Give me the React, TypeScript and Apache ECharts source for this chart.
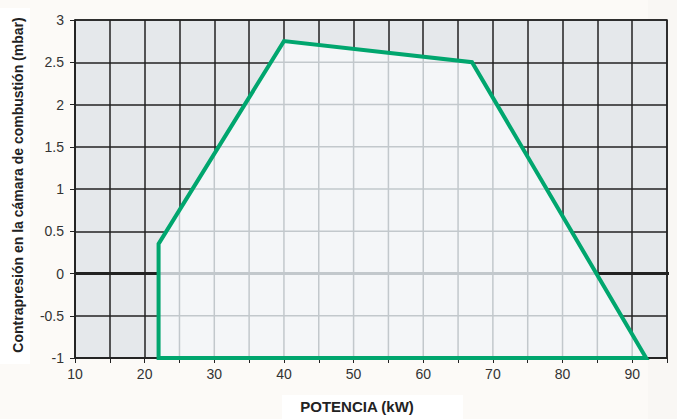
import React, { useEffect, useRef } from "react";
import * as echarts from "echarts";

// Operating envelope (power kW, back-pressure mbar)
const potencia = [22, 22, 40, 67, 92];
const contrapresion = [-1, 0.35, 2.75, 2.5, -1];

const xTicks = [10, 20, 30, 40, 50, 60, 70, 80, 90];
const yTicks = [-1, -0.5, 0, 0.5, 1, 1.5, 2, 2.5, 3];

const X_MIN = 10, X_MAX = 95, X_STEP = 5;
const Y_MIN = -1, Y_MAX = 3, Y_STEP = 0.5;

const GREEN = "#00a66e";
const DARK = "#222222";
const INNER_LINE = "#c2c8cc";

function polyPts(): number[][] {
  return potencia.map((x, i) => [x, contrapresion[i]]);
}

// intersection range of polygon with x = v (axis 0) or y = v (axis 1)
function crossRange(pts: number[][], v: number, axis: number): number[] | null {
  const other = 1 - axis;
  const hits: number[] = [];
  for (let i = 0; i < pts.length; i++) {
    const a = pts[i], b = pts[(i + 1) % pts.length];
    const lo = Math.min(a[axis], b[axis]), hi = Math.max(a[axis], b[axis]);
    if (v < lo || v > hi) continue;
    if (a[axis] === b[axis]) {
      hits.push(a[other], b[other]);
    } else {
      const t = (v - a[axis]) / (b[axis] - a[axis]);
      hits.push(a[other] + t * (b[other] - a[other]));
    }
  }
  if (hits.length < 2) return null;
  return [Math.min(...hits), Math.max(...hits)];
}

export default function App() {
  const ref = useRef<HTMLDivElement>(null);
  useEffect(() => {
    if (!ref.current) return;
    const chart = echarts.init(ref.current, null, { renderer: "svg" });
    const pts = polyPts();

    const renderItem = (params: any, api: any) => {
      const children: any[] = [];
      const c = (x: number, y: number) => api.coord([x, y]);
      // thick dark zero line across the whole grid
      const z0 = c(X_MIN, 0), z1 = c(X_MAX, 0);
      children.push({
        type: "line",
        shape: { x1: z0[0], y1: z0[1], x2: z1[0] + 2, y2: z1[1] },
        style: { stroke: DARK, lineWidth: 3 },
      });
      // polygon fill
      children.push({
        type: "polygon",
        shape: { points: pts.map((p) => c(p[0], p[1])) },
        style: { fill: "#f4f6f8", stroke: "none" },
      });
      // inner grid lines (vertical)
      for (let v = X_MIN + X_STEP; v < X_MAX; v += X_STEP) {
        const r = crossRange(pts, v, 0);
        if (!r) continue;
        const p0 = c(v, r[0]), p1 = c(v, r[1]);
        children.push({
          type: "line",
          shape: { x1: p0[0], y1: p0[1], x2: p1[0], y2: p1[1] },
          style: { stroke: INNER_LINE, lineWidth: 1.5 },
        });
      }
      // inner grid lines (horizontal)
      for (let h = Y_MIN + Y_STEP; h < Y_MAX; h += Y_STEP) {
        const r = crossRange(pts, h, 1);
        if (!r) continue;
        const p0 = c(r[0], h), p1 = c(r[1], h);
        children.push({
          type: "line",
          shape: { x1: p0[0], y1: p0[1], x2: p1[0], y2: p1[1] },
          style: { stroke: INNER_LINE, lineWidth: h === 0 ? 3 : 1.5 },
        });
      }
      // outline
      children.push({
        type: "polygon",
        shape: { points: pts.map((p) => c(p[0], p[1])) },
        style: { fill: "none", stroke: GREEN, lineWidth: 4, lineJoin: "miter" },
      });
      return { type: "group", children };
    };

    const labelStyle = {
      color: "#333333",
      fontFamily: "Liberation Sans, Arial, sans-serif",
      fontSize: 14,
    };

    chart.setOption({
      animation: false,
      backgroundColor: "#fcfaf7",
      graphic: [
        { type: "rect", z: -10, shape: { x: 648, y: 0, width: 29, height: 419 }, style: { fill: "#f9f7f4" } },
        { type: "rect", z: -10, shape: { x: 0, y: 8, width: 30, height: 356 }, style: { fill: "#ffffff" } },
        { type: "rect", z: -10, shape: { x: 282, y: 395, width: 181, height: 24 }, style: { fill: "#ffffff" } },
        {
          type: "text",
          x: 18,
          y: 185,
          rotation: Math.PI / 2,
          style: {
            text: "Contrapresión en la cámara de combustión (mbar)",
            fill: "#222222",
            font: "bold 14px 'Liberation Sans', Arial, sans-serif",
            align: "center",
            verticalAlign: "middle",
          },
        },
        {
          type: "text",
          x: 357,
          y: 406,
          style: {
            text: "POTENCIA (kW)",
            fill: "#222222",
            font: "bold 15px 'Liberation Sans', Arial, sans-serif",
            align: "center",
            verticalAlign: "middle",
          },
        },
      ],
      grid: {
        left: 75,
        right: 10,
        top: 20,
        bottom: 61,
        show: true,
        backgroundColor: "#e5e8eb",
        borderColor: DARK,
        borderWidth: 1.5,
      },
      xAxis: {
        type: "value",
        min: X_MIN,
        max: X_MAX,
        interval: X_STEP,
        axisLine: { show: true, onZero: false, lineStyle: { color: DARK, width: 1.5 } },
        axisTick: { show: true, length: 5, lineStyle: { color: DARK } },
        axisLabel: {
          ...labelStyle,
          margin: 9,
          formatter: (v: number) => (xTicks.includes(v) ? String(v) : ""),
        },
        splitLine: { show: true, lineStyle: { color: DARK, width: 1.5 } },
      },
      yAxis: {
        type: "value",
        min: Y_MIN,
        max: Y_MAX,
        interval: Y_STEP,
        axisLine: { show: true, lineStyle: { color: DARK, width: 1.5 } },
        axisTick: { show: true, length: 5, lineStyle: { color: DARK } },
        axisLabel: {
          ...labelStyle,
          margin: 11,
          formatter: (v: number) => (yTicks.includes(v) ? String(v) : ""),
        },
        splitLine: { show: true, lineStyle: { color: DARK, width: 1.5 } },
      },
      series: [
        {
          type: "custom",
          clip: false,
          renderItem,
          data: [[potencia[0], contrapresion[0]]],
          silent: true,
        },
      ],
    });
    return () => chart.dispose();
  }, []);

  return (
    <div
      ref={ref}
      style={{ position: "absolute", left: 0, top: 0, width: 677, height: 419 }}
    />
  );
}
